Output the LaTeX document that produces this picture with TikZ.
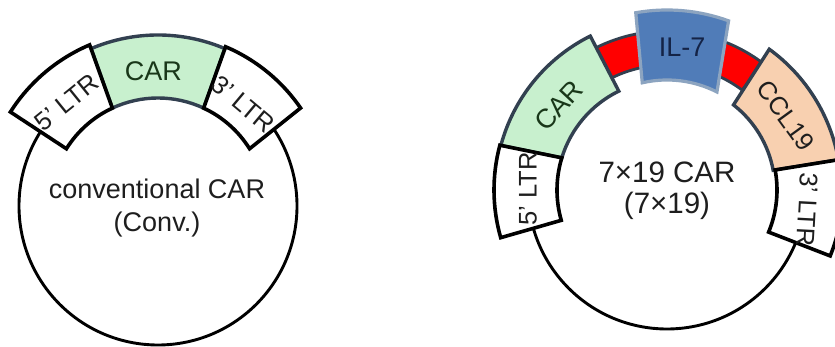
\documentclass[tikz,border=0pt]{standalone}
\usepackage{fontspec}
\setmainfont{Liberation Sans}
\definecolor{slate}{RGB}{50,64,80}
\definecolor{cargreen}{RGB}{200,240,206}
\definecolor{ilblue}{RGB}{80,124,184}
\definecolor{iledge}{RGB}{140,164,192}
\definecolor{peach}{RGB}{248,208,176}
\definecolor{txt}{RGB}{30,30,30}
\tikzset{
  pics/sector/.style args={#1/#2/#3/#4/#5/#6}{code={%
    \path[pic actions] (#1:#3) arc[start angle=#1,end angle=#2,radius=#3]
      -- (#5:#6) arc[start angle=#5,end angle=#4,radius=#6] -- cycle;}},
  ltrbox/.style={draw=black,fill=white,line width=3.6pt,line join=miter},
  carbox/.style={draw=slate,fill=cargreen,line width=3.4pt},
  ilbox/.style={draw=iledge,fill=ilblue,line width=3.2pt},
  redbox/.style={draw=slate,fill=red,line width=2.8pt},
  ccbox/.style={draw=slate,fill=peach,line width=3.4pt},
  ring/.style={draw=black,line width=2.9pt},
  lbl/.style={font=\fontsize{25.5}{30}\selectfont,text=txt,inner sep=0pt},
  big/.style={font=\fontsize{27}{33}\selectfont,text=txt,align=center,inner sep=0pt}
}
\begin{document}
\begin{tikzpicture}[x=1pt,y=1pt]
\useasboundingbox (0,0) rectangle (835,347);
\fill[white] (0,0) rectangle (835,347);
% ---------- left plasmid ----------
\coordinate (cL) at (158,141);
\node[ring,circle,minimum size=278pt,inner sep=0pt] (circL) at (cL) {};
\pic[carbox] at (cL) {sector=67/113/171pt/65/115/108pt};
\pic[ltrbox] at (cL) {sector=113/147.5/175pt/115/148/108pt};
\pic[ltrbox] at (cL) {sector=34.5/67/173pt/32/65/108pt};
\node[lbl,font=\fontsize{27}{30}\selectfont,text={rgb,255:red,25;green,55;blue,25}] (carL) at ([shift={(92:135pt)}]cL) {CAR};
\node[lbl,rotate=39] (ltr5L) at ([shift={(131.5:138pt)}]cL) {5' LTR};
\node[lbl,rotate=-40] (ltr3L) at ([shift={(50:133pt)}]cL) {3' LTR};
\node[big] (nameL) at ([shift={(-1,-2)}]cL) {conventional CAR\\(Conv.)};
% ---------- right plasmid ----------
\coordinate (cR) at (667,157);
\node[ring,circle,minimum size=278pt,inner sep=0pt] (circR) at (cR) {};
\pic[redbox] at (cR) {sector=53/117/159pt/53/117/125pt};
\pic[carbox] at (cR) {sector=116.5/165/172pt/116/163/110pt};
\pic[ilbox] at (cR) {sector=70/100/180pt/63/103/110pt};
\pic[ccbox] at (cR) {sector=10/54/174pt/10.5/52/108pt};
\pic[ltrbox] at (cR) {sector=165/196/173pt/163/196/110pt};
\pic[ltrbox] at (cR) {sector=-22/10/176pt/-22.5/10.5/110pt};
\node[lbl,rotate=47,font=\fontsize{27}{30}\selectfont,text={rgb,255:red,25;green,55;blue,25}] (carR) at ([shift={(142:137pt)}]cR) {CAR};
\node[lbl,font=\fontsize{27}{30}\selectfont,text={rgb,255:red,20;green,35;blue,70}] (il7) at ([shift={(84:144pt)}]cR) {IL-7};
\node[lbl,rotate=-54] (ccl) at ([shift={(32:140pt)}]cR) {CCL19};
\node[lbl,rotate=90] (ltr5R) at ([shift={(179.5:139pt)}]cR) {5' LTR};
\node[lbl,rotate=-93] (ltr3R) at ([shift={(-8:142pt)}]cR) {3' LTR};
\node[big,font=\fontsize{29.5}{31}\selectfont] (nameR) at ([shift={(0,-1)}]cR) {7×19 CAR\\(7×19)};
\end{tikzpicture}
\end{document}
